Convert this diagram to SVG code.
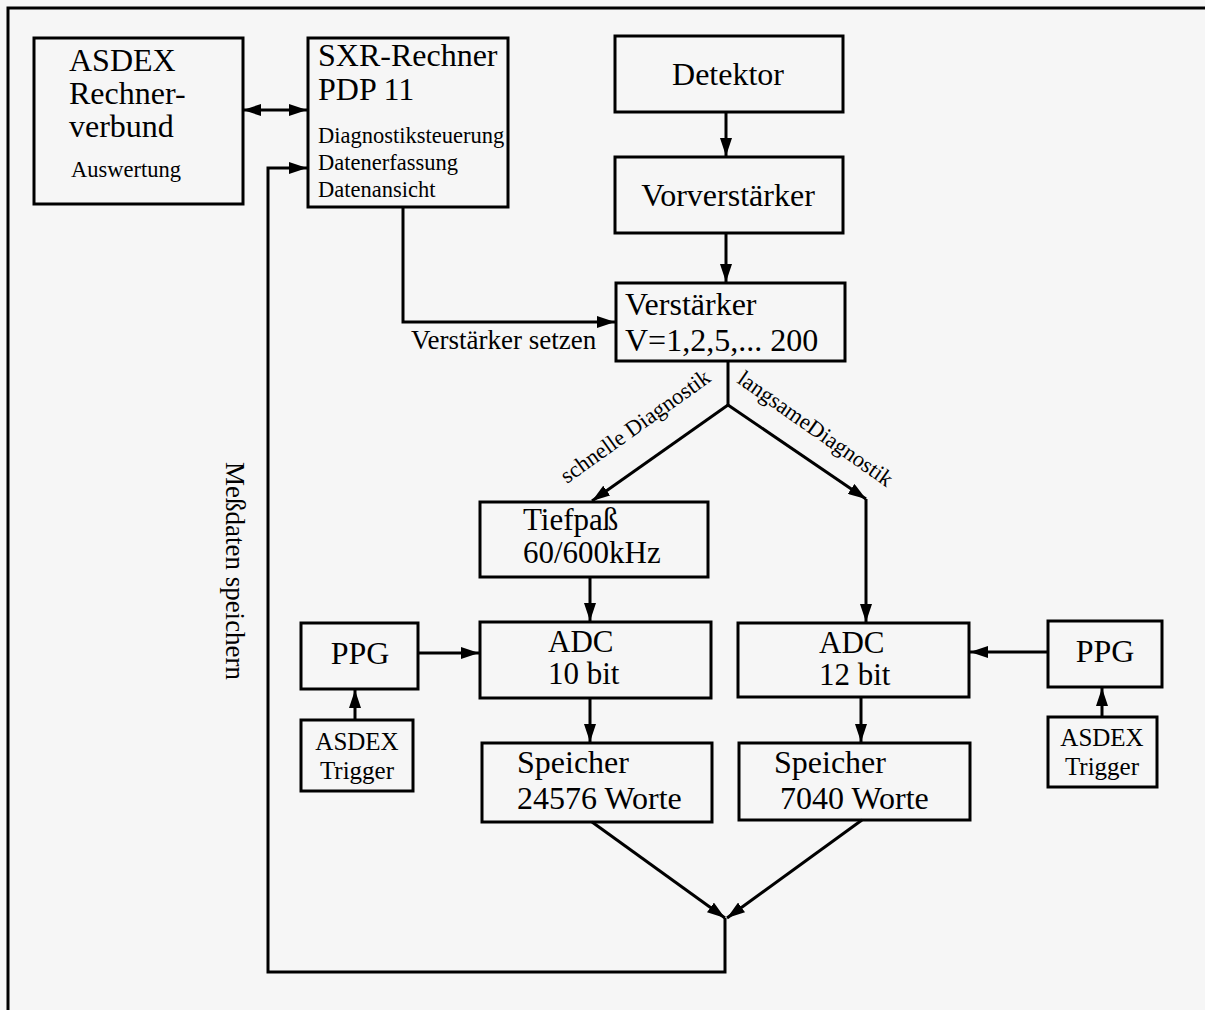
<svg xmlns="http://www.w3.org/2000/svg" width="1205" height="1010" viewBox="0 0 1205 1010">
<defs>
<marker id="ah" viewBox="0 0 18 12" refX="18" refY="6" markerWidth="18" markerHeight="12" markerUnits="userSpaceOnUse" orient="auto">
<path d="M0,0 L18,6 L0,12 Z" fill="#000"/>
</marker>
<marker id="ahs" viewBox="0 0 18 12" refX="0" refY="6" markerWidth="18" markerHeight="12" markerUnits="userSpaceOnUse" orient="auto">
<path d="M18,0 L0,6 L18,12 Z" fill="#000"/>
</marker>
</defs>
<style>
.bx{fill:none;stroke:#000;stroke-width:3}
.ln{fill:none;stroke:#000;stroke-width:3}
.ar{fill:none;stroke:#000;stroke-width:3;marker-end:url(#ah)}
text{font-family:"Liberation Serif","Times New Roman",serif;fill:#000}
.L{font-size:32px}
.K{font-size:31px}
.M{font-size:25px}
.T{font-size:27px}
.S{font-size:22.5px}
.c{text-anchor:middle}
</style>
<rect x="0" y="0" width="1205" height="1010" fill="#f6f6f6"/>
<g id="frame">
<path class="ln" d="M8,1010 L8,8 L1205,8"/>
</g>
<g id="asdex-rechnerverbund">
<rect class="bx" x="34" y="38" width="209" height="166"/>
<text class="L" x="69" y="71">ASDEX</text>
<text class="L" x="69" y="104">Rechner-</text>
<text class="L" x="69" y="137">verbund</text>
<text class="S" x="71" y="177">Auswertung</text>
</g>
<g id="sxr-rechner">
<rect class="bx" x="308" y="38" width="200" height="169"/>
<text class="L" x="318" y="66">SXR-Rechner</text>
<text class="L" x="318" y="100">PDP 11</text>
<text class="S" x="318" y="143">Diagnostiksteuerung</text>
<text class="S" x="318" y="170">Datenerfassung</text>
<text class="S" x="318" y="197">Datenansicht</text>
</g>
<g id="detektor">
<rect class="bx" x="615" y="36" width="228" height="76"/>
<text class="L c" x="728" y="85">Detektor</text>
</g>
<g id="vorverstaerker">
<rect class="bx" x="615" y="157" width="228" height="76"/>
<text class="L c" x="728" y="206">Vorverstärker</text>
</g>
<g id="verstaerker">
<rect class="bx" x="616" y="283" width="229" height="78"/>
<text class="L" x="625" y="315">Verstärker</text>
<text class="L" x="625" y="351">V=1,2,5,... 200</text>
</g>
<g id="tiefpass">
<rect class="bx" x="480" y="502" width="228" height="75"/>
<text class="K" x="523" y="530">Tiefpaß</text>
<text class="K" x="523" y="563">60/600kHz</text>
</g>
<g id="adc10">
<rect class="bx" x="480" y="622" width="231" height="76"/>
<text class="K" x="548" y="652">ADC</text>
<text class="K" x="548" y="684">10 bit</text>
</g>
<g id="speicher24576">
<rect class="bx" x="482" y="743" width="230" height="79"/>
<text class="L" x="517" y="773">Speicher</text>
<text class="L" x="517" y="809">24576 Worte</text>
</g>
<g id="ppg-left">
<rect class="bx" x="301" y="623" width="117" height="66"/>
<text class="L c" x="360" y="664">PPG</text>
</g>
<g id="trigger-left">
<rect class="bx" x="301" y="720" width="112" height="71"/>
<text class="M c" x="357" y="750">ASDEX</text>
<text class="M c" x="357" y="779">Trigger</text>
</g>
<g id="adc12">
<rect class="bx" x="738" y="623" width="231" height="74"/>
<text class="K" x="819" y="653">ADC</text>
<text class="K" x="819" y="685">12 bit</text>
</g>
<g id="speicher7040">
<rect class="bx" x="739" y="743" width="231" height="77"/>
<text class="L" x="774" y="773">Speicher</text>
<text class="L" x="780" y="809">7040 Worte</text>
</g>
<g id="ppg-right">
<rect class="bx" x="1048" y="621" width="114" height="66"/>
<text class="L c" x="1105" y="662">PPG</text>
</g>
<g id="trigger-right">
<rect class="bx" x="1048" y="717" width="109" height="70"/>
<text class="M c" x="1102" y="746">ASDEX</text>
<text class="M c" x="1102" y="775">Trigger</text>
</g>
<g id="connectors">
<line class="ln" x1="243" y1="110" x2="307" y2="110" marker-start="url(#ahs)" marker-end="url(#ah)"/>
<polyline class="ar" points="725,918 725,972 268,972 268,168 307,168"/>
<polyline class="ar" points="403,207 403,322 615,322"/>
<line class="ar" x1="726" y1="112" x2="726" y2="156"/>
<line class="ar" x1="726" y1="233" x2="726" y2="282"/>
<polyline class="ln" points="728,361 728,405"/>
<line class="ar" x1="728" y1="405" x2="592" y2="501"/>
<line class="ar" x1="728" y1="405" x2="866" y2="499"/>
<line class="ar" x1="866" y1="499" x2="866" y2="622"/>
<line class="ar" x1="590" y1="577" x2="590" y2="621"/>
<line class="ar" x1="590" y1="698" x2="590" y2="742"/>
<line class="ar" x1="418" y1="653" x2="479" y2="653"/>
<line class="ar" x1="355" y1="720" x2="355" y2="690"/>
<line class="ar" x1="1048" y1="652" x2="970" y2="652"/>
<line class="ar" x1="1102" y1="717" x2="1102" y2="688"/>
<line class="ar" x1="861" y1="697" x2="861" y2="742"/>
<line class="ar" x1="592" y1="822" x2="725" y2="918"/>
<line class="ar" x1="862" y1="820" x2="727" y2="918"/>
<text class="T" x="411" y="349">Verstärker setzen</text>
<text class="S" transform="translate(567,484) rotate(-35.5)">schnelle Diagnostik</text>
<text class="S" transform="translate(736,382) rotate(35)">langsameDiagnostik</text>
<text class="T c" transform="translate(226,571) rotate(90)">Meßdaten speichern</text>
</g>
</svg>
